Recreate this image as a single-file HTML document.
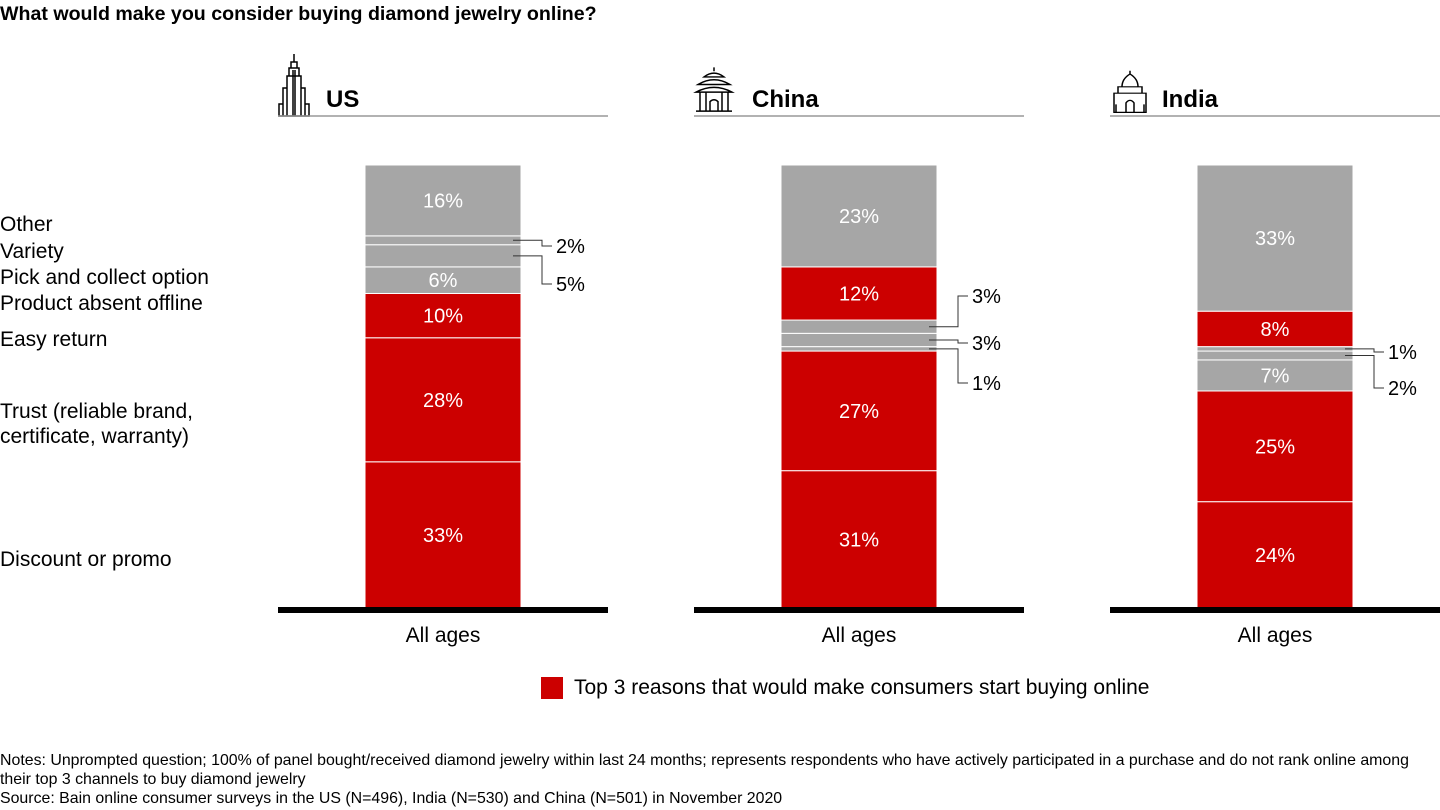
<!DOCTYPE html>
<html><head><meta charset="utf-8">
<style>
body{margin:0;width:1440px;height:810px;background:#fff;font-family:"Liberation Sans",Arial,sans-serif;overflow:hidden;position:relative}
.t{position:absolute;white-space:nowrap;color:#000}
</style></head><body>
<div class="t" style="left:0;top:3px;font-size:19.6px;font-weight:bold">What would make you consider buying diamond jewelry online?</div>
<div class="t" style="left:0;top:213px;font-size:21px">Other</div>
<div class="t" style="left:0;top:240px;font-size:21px">Variety</div>
<div class="t" style="left:0;top:266px;font-size:21px">Pick and collect option</div>
<div class="t" style="left:0;top:292px;font-size:21px">Product absent offline</div>
<div class="t" style="left:0;top:328px;font-size:21px">Easy return</div>
<div class="t" style="left:0;top:399px;font-size:21px;line-height:25px">Trust (reliable brand,<br>certificate, warranty)</div>
<div class="t" style="left:0;top:548px;font-size:21px">Discount or promo</div>
<div style="position:absolute;left:541px;top:677px;width:22px;height:22px;background:#cc0000"></div>
<div class="t" style="left:574px;top:676px;font-size:21px">Top 3 reasons that would make consumers start buying online</div>
<div class="t" style="left:0;top:751px;font-size:15.9px;line-height:19px">Notes: Unprompted question; 100% of panel bought/received diamond jewelry within last 24 months; represents respondents who have actively participated in a purchase and do not rank online among<br>their top 3 channels to buy diamond jewelry<br>Source: Bain online consumer surveys in the US (N=496), India (N=530) and China (N=501) in November 2020</div>
<svg id="chart" width="1440" height="810" style="position:absolute;left:0;top:0"></svg>
<script>
const countries=["US","China","India"];
const usValues=[33,28,10,6,5,2,16];
const usColors=["r","r","r","g","g","g","g"];
const chinaValues=[31,27,1,3,3,12,23];
const chinaColors=["r","r","g","g","g","r","g"];
const indiaValues=[24,25,7,2,1,8,33];
const indiaColors=["r","r","g","g","g","r","g"];
const allValues=[usValues,chinaValues,indiaValues];
const allColors=[usColors,chinaColors,indiaColors];
const usCallouts=[[5,246],[4,284]];
const chinaCallouts=[[4,296],[3,343],[2,383]];
const indiaCallouts=[[4,352],[3,388]];
const allCallouts=[usCallouts,chinaCallouts,indiaCallouts];

const NS="http://www.w3.org/2000/svg";
const svg=document.getElementById("chart");
const yTop=165,yBot=608;
function y(v){return yBot-v*(yBot-yTop)/100;}
function mk(tag,attrs,parent){const e=document.createElementNS(NS,tag);for(const k in attrs)e.setAttribute(k,attrs[k]);(parent||svg).appendChild(e);return e;}
const icons=[
 '<path d="M16 2v8M13 10h6v6h-6zM11 16h10v8h-10zM9 24h14v40h-14zM5 36h4v28h-4zM23 36h4v28h-4zM1 52h4v12h-4zM27 52h4v12h-4zM15 18v46M17 18v46" fill="none" stroke="#000" stroke-width="1.5"/>',
 '<path d="M20 12v4M10 22q10-8 20 0zM4 30q16-10 32 0zM2 38q18-10 36 0zM6 38v20M34 38v20M12 38v20M28 38v20M16 58v-10q4-4 8 0v10M2 58h36" fill="none" stroke="#000" stroke-width="1.5"/>',
 '<path d="M20 6v4M12 26q0-10 8-16q8 6 8 16zM8 26h24v8h-24zM4 34h32v24h-32zM16 58v-12q4-6 8 0v12M6 58v-10M34 58v-10M4 58h32" fill="none" stroke="#000" stroke-width="1.5"/>'
];
for(let c=0;c<3;c++){
  const ax=278+416*c, bx=365+416*c, bw=156;
  const g=mk("g",{});
  
  
  const ic=mk("g",{transform:`translate(${ax},${c==0?52:c==1?56:66}) scale(1,${c==0?1:c==1?0.95:0.8})`},g);
  ic.innerHTML=icons[c];
  
  
  const ht=mk("text",{x:ax+(c==0?48:c==1?58:52),y:107,"font-size":24,"font-weight":"bold","font-family":"Liberation Sans, Arial, sans-serif"},g);
  ht.textContent=countries[c];
  
  
  const ul=mk("line",{x1:ax,x2:ax+330,y1:116,y2:116,stroke:"#999","stroke-width":1.5},g);
  
  
  const vals=allValues[c], cols=allColors[c];
  let cum=0; const mids=[];
  for(let i=0;i<vals.length;i++){
    const y0=y(cum), y1=y(cum+vals[i]);
    const r=mk("rect",{x:bx,y:y1,width:bw,height:y0-y1,fill:cols[i]=="r"?"#cc0000":"#a6a6a6",stroke:"#fff","stroke-width":1},g);
    
    
    mids.push((y0+y1)/2);
    if(vals[i]>=5 && !allCallouts[c].some(o=>o[0]==i)){
      const t=mk("text",{x:bx+bw/2,y:(y0+y1)/2+7,"text-anchor":"middle",fill:"#fff","font-size":20,"font-family":"Liberation Sans, Arial, sans-serif"},g);
      t.textContent=vals[i]+"%";
      
      
    }
    cum+=vals[i];
  }
  const ex=bx+bw+21;
  for(const [i,ly] of allCallouts[c]){
    const p=mk("path",{d:`M${bx+bw-8} ${mids[i]}H${ex}V${ly}H${ex+10}`,fill:"none",stroke:"#333","stroke-width":1},g);
    
    
    const t=mk("text",{x:ex+14,y:ly+7,"font-size":20,"font-family":"Liberation Sans, Arial, sans-serif"},g);
    t.textContent=vals[i]+"%";
    
    
  }
  const base=mk("rect",{x:ax,y:607,width:330,height:6,fill:"#000"},g);
  
  
  const xl=mk("text",{x:bx+bw/2,y:642,"text-anchor":"middle","font-size":21,"font-family":"Liberation Sans, Arial, sans-serif"},g);
  xl.textContent="All ages";
  
  
}
</script>
</body></html>
